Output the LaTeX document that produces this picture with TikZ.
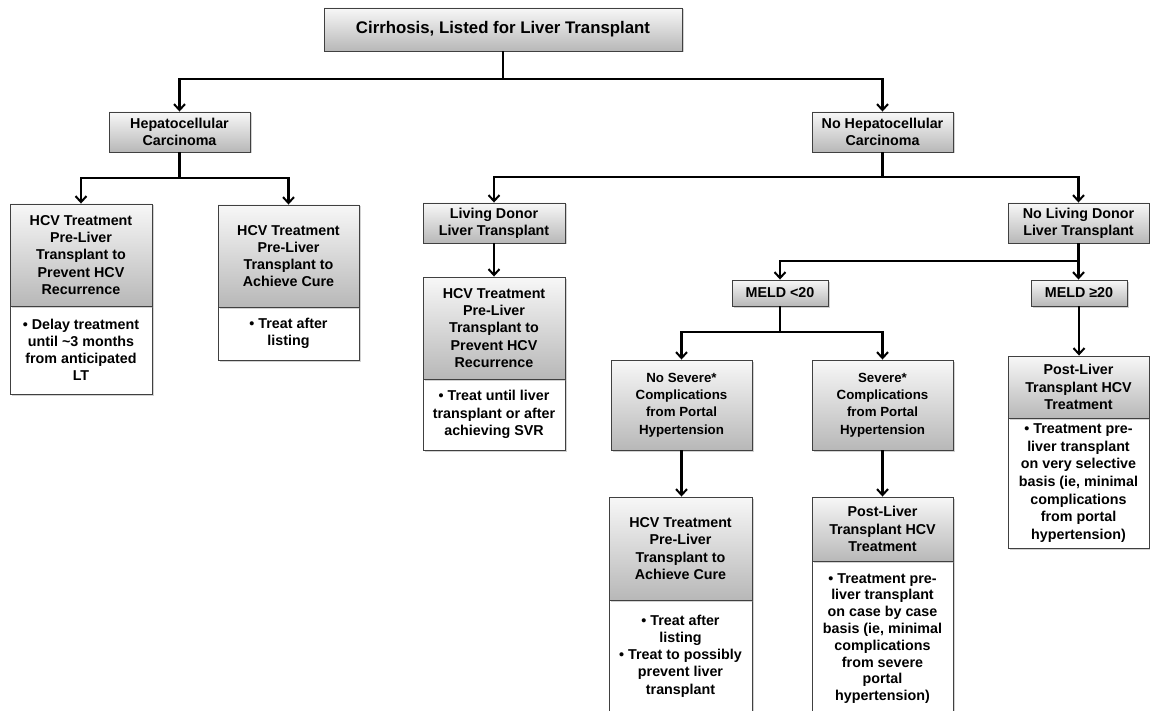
\documentclass[tikz,border=0pt]{standalone}
\usepackage{fontspec}
\setmainfont{Liberation Sans}
\usetikzlibrary{arrows.meta,shadows,calc}
\begin{document}
\begin{tikzpicture}[x=1pt,y=-1pt,
 box/.style={draw=black!75, line width=0.9pt, inner sep=0pt, align=center,
   font=\bfseries\fontsize{14.3}{17.2}\selectfont,
   drop shadow={opacity=0.35, shadow xshift=1.5pt, shadow yshift=-1.5pt}},
 hdr/.style={box, top color=black!3, bottom color=black!28},
 bdy/.style={box, fill=white},
 conn/.style={line width=2.3pt, -{Straight Barb[length=6pt,width=11pt,line width=2pt]}},
 wire/.style={line width=2.3pt}
]
\useasboundingbox (0,0) rectangle (1150,711);
\fill[white] (0,0) rectangle (1150,711);
\clip (0,0) rectangle (1150,711);

% junction levels
\coordinate (y1) at (0,79);
\coordinate (y2) at (0,178);
\coordinate (y3) at (0,177);
\coordinate (y4) at (0,261);
\coordinate (y5) at (0,332);

\node[hdr, minimum width=358pt, minimum height=43pt, font=\bfseries\fontsize{16.8}{20}\selectfont] (top) at (503,29.5) {Cirrhosis, Listed for Liver Transplant};

\node[hdr, minimum width=141pt, minimum height=40pt] (hcc) at (179.5,132) {Hepatocellular\\Carcinoma};
\node[hdr, minimum width=141pt, minimum height=40pt] (nohcc) at (882.5,132) {No Hepatocellular\\Carcinoma};

% left branch
\node[bdy, minimum width=142pt, minimum height=88pt] (L1b) at (81,350) {• Delay treatment\\until \textasciitilde3 months\\from anticipated\\LT};
\node[hdr, minimum width=142pt, minimum height=102pt] (L1h) at (81,255) {HCV Treatment\\Pre-Liver\\Transplant to\\Prevent HCV\\Recurrence};
\node[bdy, minimum width=141pt, minimum height=53pt] (L2b) at (288.5,333.5) {• Treat after\\listing};
\node[hdr, minimum width=141pt, minimum height=102pt] (L2h) at (288.5,256) {HCV Treatment\\Pre-Liver\\Transplant to\\Achieve Cure};

% living donor
\node[hdr, minimum width=142pt, minimum height=40pt] (LD) at (494,223) {Living Donor\\Liver Transplant};
\node[bdy, minimum width=142pt, minimum height=71pt] (LDb) at (494,414.5) {• Treat until liver\\transplant or after\\achieving SVR};
\node[hdr, minimum width=142pt, minimum height=102pt] (LDh) at (494,328) {HCV Treatment\\Pre-Liver\\Transplant to\\Prevent HCV\\Recurrence};

% no living donor
\node[hdr, minimum width=141pt, minimum height=40pt] (NoLD) at (1078.5,223) {No Living Donor\\Liver Transplant};
\node[hdr, minimum width=96pt, minimum height=26pt] (M1) at (780,293) {MELD <20};
\node[hdr, minimum width=96pt, minimum height=26pt] (M2) at (1079,293) {MELD ≥20};

\node[hdr, minimum width=141pt, minimum height=90pt, font=\bfseries\fontsize{13.3}{17.4}\selectfont] (NS) at (681.5,405) {No Severe*\\Complications\\from Portal\\Hypertension};
\node[hdr, minimum width=141pt, minimum height=90pt, font=\bfseries\fontsize{13.3}{17.4}\selectfont] (SV) at (882.5,405) {Severe*\\Complications\\from Portal\\Hypertension};

\node[bdy, minimum width=143pt, minimum height=112pt] (CUb) at (680.5,656) {• Treat after\\listing\\• Treat to possibly\\prevent liver\\transplant};
\node[hdr, minimum width=143pt, minimum height=103pt] (CUh) at (680.5,548.5) {HCV Treatment\\Pre-Liver\\Transplant to\\Achieve Cure};

\node[bdy, minimum width=141pt, minimum height=155pt, font=\bfseries\fontsize{14.3}{16.8}\selectfont] (PSb) at (882.5,638.5) {• Treatment pre-\\liver transplant\\on case by case\\basis (ie, minimal\\complications\\from severe\\portal\\hypertension)};
\node[hdr, minimum width=141pt, minimum height=64pt] (PSh) at (882.5,529) {Post-Liver\\Transplant HCV\\Treatment};

\node[bdy, minimum width=141pt, minimum height=130pt, font=\bfseries\fontsize{14.3}{17.6}\selectfont] (PRb) at (1078.5,483) {• Treatment pre-\\liver transplant\\on very selective\\basis (ie, minimal\\complications\\from portal\\hypertension)};
\node[hdr, minimum width=141pt, minimum height=62pt] (PRh) at (1078.5,387) {Post-Liver\\Transplant HCV\\Treatment};

% connectors
\draw[conn] (top.south) -- (top.south |- y1) -| (hcc.north);
\draw[conn] (top.south |- y1) -| (nohcc.north);

\draw[conn] (hcc.south) -- (hcc.south |- y2) -| (L1h.north);
\draw[conn] (hcc.south |- y2) -| (L2h.north);

\draw[conn] (nohcc.south) -- (nohcc.south |- y3) -| (LD.north);
\draw[conn] (nohcc.south |- y3) -| (NoLD.north);

\draw[conn] (LD.south) -- (LDh.north);

\draw[conn] (NoLD.south) -- (NoLD.south |- y4) -| (M1.north);
\draw[conn] (NoLD.south |- y4) -- (NoLD.south |- M2.north);

\draw[conn] (M1.south) -- (M1.south |- y5) -| (NS.north);
\draw[conn] (M1.south |- y5) -| (SV.north);

\draw[conn] (M2.south) -- (M2.south |- PRh.north);
\draw[conn] (NS.south) -- (NS.south |- CUh.north);
\draw[conn] (SV.south) -- (PSh.north);
\end{tikzpicture}
\end{document}
